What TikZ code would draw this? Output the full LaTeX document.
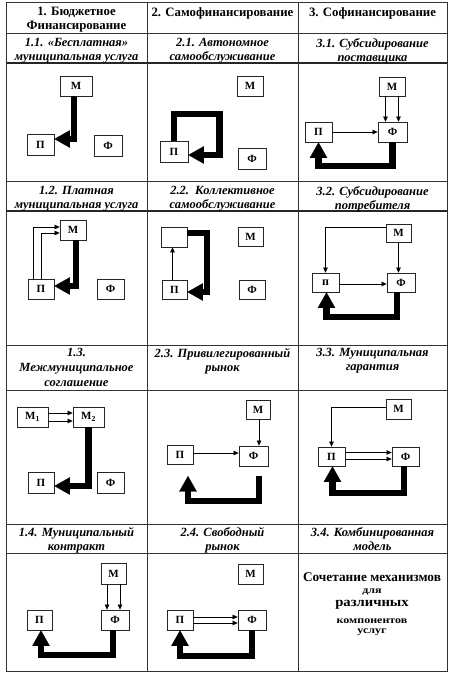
\documentclass[tikz,border=0pt]{standalone}
\usepackage{fontspec}
\usepackage{graphicx}
\setmainfont{Liberation Serif}
\usetikzlibrary{arrows.meta}
\begin{document}
\begin{tikzpicture}[x=1pt,y=-1pt,
  bx/.style={draw=black!85, fill=white, line width=0.8pt, inner sep=0pt, font=\fontsize{11}{11}\selectfont\bfseries},
  heavy/.style={line width=6.8pt, line join=miter, -{Triangle[length=15.5pt,width=17.5pt,line width=0.1pt]}},
  lite/.style={line width=0.8pt, -{Triangle[length=5pt,width=4.5pt,line width=0.1pt]}},
  gridline/.style={line width=0.9pt, black!80},
  gridthick/.style={line width=1.8pt, black!85},
  hdr/.style={anchor=north, align=center, inner sep=0pt, font=\fontsize{12.8}{13.5}\selectfont\bfseries},
  ttl/.style={anchor=north, align=center, inner sep=0pt, font=\fontsize{12.5}{14}\selectfont\bfseries\itshape},
  ttlb/.style={anchor=north, align=center, inner sep=0pt, font=\fontsize{12.5}{15}\selectfont\bfseries\itshape},
  big/.style={inner sep=0pt, font=\fontsize{13.3}{13}\selectfont\bfseries},
  small/.style={inner sep=0pt, font=\fontsize{10}{10}\selectfont\bfseries},
]
\useasboundingbox (0,0) rectangle (456,679);
\fill[white] (0,0) rectangle (456,679);

% ---------- grid ----------
\draw[gridline] (6,2) rectangle (447,671);
\foreach \yy in {33,181,345,390,524,553} \draw[gridline] (6,\yy) -- (447,\yy);
\foreach \yy in {63,211} \draw[gridthick] (6,\yy) -- (447,\yy);
\foreach \xx in {147,298} \draw[gridline] (\xx,2) -- (\xx,671);

% ---------- headers ----------
\node[hdr] (h1) at (76.5,7) {1. Бюджетное\\Финансирование};
\node[hdr] (h2) at (222.5,7) {2. Самофинансирование};
\node[hdr] (h3) at (372.5,7) {3. Софинансирование};

% ---------- titles ----------
\node[ttl] (t11) at (76.5,38.5) {1.1. «Бесплатная»\\муниципальная услуга};
\node[ttl] (t21) at (222.5,38.5) {2.1. Автономное\\самообслуживание};
\node[ttl] (t31) at (372.5,38.5) {3.1. Субсидирование\\поставщика};
\node[ttl] (t12) at (76.5,186) {1.2. Платная\\муниципальная услуга};
\node[ttl] (t22) at (222.5,186) {2.2.\ \ Коллективное\\самообслуживание};
\node[ttl] (t32) at (372.5,186) {3.2. Субсидирование\\потребителя};
\node[ttlb] (t13) at (76.5,348.5) {1.3.\\Межмуниципальное\\соглашение};
\node[ttl] (t23) at (222.5,348.5) {2.3. Привилегированный\\рынок};
\node[ttl] (t33) at (372.5,348.5) {3.3. Муниципальная\\гарантия};
\node[ttl] (t14) at (76.5,527) {1.4. Муниципальный\\контракт};
\node[ttl] (t24) at (222.5,527) {2.4. Свободный\\рынок};
\node[ttl] (t34) at (372.5,527) {3.4. Комбинированная\\модель};

% ---------- 1.1 ----------
\node[bx, minimum width=32pt, minimum height=20pt] (M11) at (76,86) {М};
\node[bx, minimum width=27pt, minimum height=21pt] (P11) at (40.5,145) {П};
\node[bx, minimum width=28pt, minimum height=21pt] (F11) at (108,145.5) {Ф};
\draw[heavy] ([xshift=-2pt]M11.south) |- ([yshift=6pt]P11.east);

% ---------- 2.1 ----------
\node[bx, minimum width=26pt, minimum height=20pt] (M21) at (250,86) {М};
\node[bx, minimum width=28pt, minimum height=21pt] (P21) at (174,151.5) {П};
\node[bx, minimum width=28pt, minimum height=21pt] (F21) at (252,158.5) {Ф};
\coordinate (c21) at (219.5,114);
\draw[heavy] (P21.north) |- (c21) |- ([yshift=-3.5pt]P21.east);

% ---------- 3.1 ----------
\node[bx, minimum width=26pt, minimum height=19pt] (M31) at (392,86.5) {М};
\node[bx, minimum width=27pt, minimum height=20pt] (P31) at (318.5,132) {П};
\node[bx, minimum width=29pt, minimum height=20pt] (F31) at (392.5,132) {Ф};
\coordinate (a31) at ([xshift=-6.5pt]M31.south);
\coordinate (b31) at ([xshift=6.5pt]M31.south);
\draw[lite] (a31) -- (a31 |- F31.north);
\draw[lite] (b31) -- (b31 |- F31.north);
\draw[lite] (P31.east) -- (F31.west);
\coordinate (d31) at (318.5,166);
\draw[heavy] (F31.south) |- (d31) -| (P31.south);

% ---------- 1.2 ----------
\node[bx, minimum width=26pt, minimum height=20pt] (M12) at (73,230) {М};
\node[bx, minimum width=26pt, minimum height=20pt] (P12) at (41,289) {П};
\node[bx, minimum width=27pt, minimum height=20pt] (F12) at (110.5,289) {Ф};
\coordinate (o12) at ([xshift=-8pt]P12.north);
\draw[lite] (o12) |- ([yshift=3pt]M12.west);
\draw[lite] (P12.north) |- ([yshift=-3pt]M12.west);
\draw[heavy] ([xshift=3pt]M12.south) |- ([yshift=3pt]P12.east);

% ---------- 2.2 ----------
\node[bx, minimum width=26pt, minimum height=20pt] (E22) at (174,237) {};
\node[bx, minimum width=25pt, minimum height=19pt] (M22) at (250.5,236.5) {М};
\node[bx, minimum width=25pt, minimum height=19pt] (P22) at (174.5,289.5) {П};
\node[bx, minimum width=26pt, minimum height=19pt] (F22) at (252,289.5) {Ф};
\draw[lite] ([xshift=-2pt]P22.north) -- ([xshift=-2pt]P22.north |- E22.south);
\coordinate (c22) at (207,260);
\draw[heavy] ([yshift=4pt]E22.east) -| (c22) |- ([yshift=-2.5pt]P22.east);

% ---------- 3.2 ----------
\node[bx, minimum width=25pt, minimum height=18pt] (M32) at (398.5,233) {М};
\node[bx, minimum width=27pt, minimum height=19pt, font=\fontsize{12}{12}\selectfont\bfseries] (P32) at (325.5,282.5) {п};
\node[bx, minimum width=28pt, minimum height=19pt] (F32) at (401,282.5) {Ф};
\draw[lite] ([yshift=6pt]M32.west) -| (P32.north);
\draw[lite] (M32.south) -- (M32.south |- F32.north);
\draw[lite] ([yshift=-1.5pt]P32.east) -- ([yshift=-1.5pt]F32.west);
\coordinate (d32) at (326.5,317);
\draw[heavy] ([xshift=-4pt]F32.south) |- (d32) -- (d32 |- P32.south);

% ---------- 1.3 ----------
\node[bx, minimum width=31pt, minimum height=20pt] (Ma13) at (32.5,417) {М\textsubscript{1}};
\node[bx, minimum width=31pt, minimum height=20pt] (Mb13) at (88.5,417) {М\textsubscript{2}};
\node[bx, minimum width=26pt, minimum height=21pt] (P13) at (41,482.5) {П};
\node[bx, minimum width=27pt, minimum height=21pt] (F13) at (110.5,482.5) {Ф};
\draw[lite] ([yshift=4pt]Ma13.east) -- ([yshift=4pt]Mb13.west);
\draw[lite] ([yshift=-4pt]Ma13.east) -- ([yshift=-4pt]Mb13.west);
\draw[heavy] (Mb13.south) |- ([yshift=-3.5pt]P13.east);

% ---------- 2.3 ----------
\node[bx, minimum width=24pt, minimum height=19pt] (M23) at (258,409.5) {М};
\node[bx, minimum width=26pt, minimum height=19pt] (P23) at (180,455) {П};
\node[bx, minimum width=29pt, minimum height=20pt] (F23) at (253.5,456) {Ф};
\draw[lite] ([xshift=1pt]M23.south) -- ([xshift=1pt]M23.south |- F23.north);
\draw[lite] ([yshift=2pt]P23.east) -- ([yshift=2pt]P23.east -| F23.west);
\coordinate (s23) at (259,476);
\coordinate (b23) at (188,501);
\coordinate (e23) at (188,476);
\draw[heavy] (s23) |- (b23) -- (e23);

% ---------- 3.3 ----------
\node[bx, minimum width=25pt, minimum height=20pt] (M33) at (398.5,409) {М};
\node[bx, minimum width=27pt, minimum height=19pt] (P33) at (331.5,456.5) {П};
\node[bx, minimum width=27pt, minimum height=19pt] (F33) at (405.5,456.5) {Ф};
\draw[lite] ([yshift=2pt]M33.west) -| (P33.north);
\draw[lite] ([yshift=4pt]P33.east) -- ([yshift=4pt]F33.west);
\draw[lite] ([yshift=-2.5pt]P33.east) -- ([yshift=-2.5pt]F33.west);
\coordinate (d33) at (332.5,493);
\draw[heavy] ([xshift=-1.5pt]F33.south) |- (d33) -- (d33 |- P33.south);

% ---------- 1.4 ----------
\node[bx, minimum width=25pt, minimum height=21pt] (M14) at (113.5,573.5) {М};
\node[bx, minimum width=25pt, minimum height=20pt] (P14) at (39.5,620) {П};
\node[bx, minimum width=28pt, minimum height=20pt] (F14) at (115,620) {Ф};
\coordinate (a14) at ([xshift=-6.5pt]M14.south);
\coordinate (b14) at ([xshift=6.5pt]M14.south);
\draw[lite] (a14) -- (a14 |- F14.north);
\draw[lite] (b14) -- (b14 |- F14.north);
\coordinate (d14) at (41,655);
\draw[heavy] ([xshift=-2pt]F14.south) |- (d14) -- (d14 |- P14.south);

% ---------- 2.4 ----------
\node[bx, minimum width=25pt, minimum height=20pt] (M24) at (250.5,574) {М};
\node[bx, minimum width=26pt, minimum height=20pt] (P24) at (180,620) {П};
\node[bx, minimum width=28pt, minimum height=20pt] (F24) at (252,620) {Ф};
\draw[lite] ([yshift=3pt]P24.east) -- ([yshift=3pt]F24.west);
\draw[lite] ([yshift=-3pt]P24.east) -- ([yshift=-3pt]F24.west);
\coordinate (d24) at (180,656);
\draw[heavy] (F24.south) |- (d24) -- (P24.south);

% ---------- 3.4 ----------
\node[big] (k1) at (372,577) {Сочетание механизмов};
\node[small] (k2) at (372,592.5) {\scalebox{1.2}[1]{для}};
\node[big] (k3) at (372,605) {\scalebox{1.1}[1]{различных}};
\node[small] (k4) at (372,621) {\scalebox{1.2}[1]{компонентов}};
\node[small] (k5) at (372,632) {\scalebox{1.2}[1]{услуг}};
\end{tikzpicture}
\end{document}
